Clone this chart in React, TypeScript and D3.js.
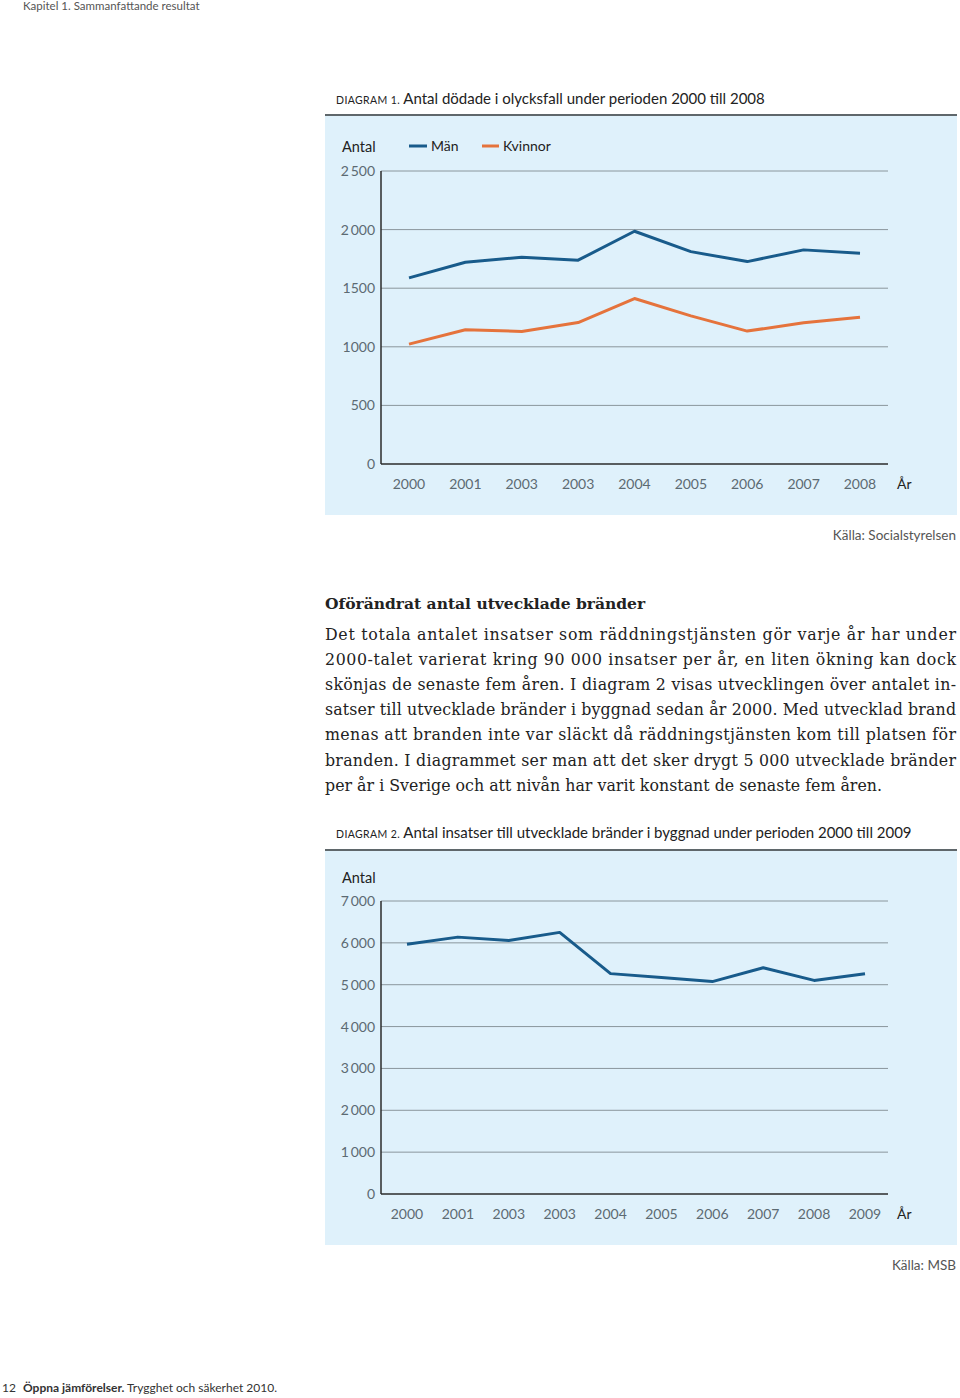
import React from "react";
import * as d3 from "d3";

const years1 = ["2000", "2001", "2003", "2003", "2004", "2005", "2006", "2007", "2008"];
const man = [1588, 1722, 1764, 1739, 1986, 1812, 1727, 1827, 1798];
const kvinnor = [1023, 1145, 1131, 1207, 1412, 1264, 1134, 1205, 1253];
const yTicks1 = [0, 500, 1000, 1500, 2000, 2500];
const yTickLabels1 = ["0", "500", "1000", "1500", "2\u2009000", "2\u2009500"];

const years2 = ["2000", "2001", "2003", "2003", "2004", "2005", "2006", "2007", "2008", "2009"];
const insatser = [5968, 6137, 6056, 6250, 5265, 5175, 5075, 5405, 5103, 5262];
const yTicks2 = [0, 1000, 2000, 3000, 4000, 5000, 6000, 7000];
const yTickLabels2 = ["0", "1\u2009000", "2\u2009000", "3\u2009000", "4\u2009000", "5\u2009000", "6\u2009000", "7\u2009000"];

const bodyLines = [
  "Det totala antalet insatser som räddningstjänsten gör varje år har under",
  "2000-talet varierat kring 90 000 insatser per år, en liten ökning kan dock",
  "skönjas de senaste fem åren. I diagram 2 visas utvecklingen över antalet in-",
  "satser till utvecklade bränder i byggnad sedan år 2000. Med utvecklad brand",
  "menas att branden inte var släckt då räddningstjänsten kom till platsen för",
  "branden. I diagrammet ser man att det sker drygt 5 000 utvecklade bränder",
  "per år i Sverige och att nivån har varit konstant de senaste fem åren.",
];

const SANS = "Lato, 'Open Sans', sans-serif";
const SERIF = "'DejaVu Serif', 'Liberation Serif', serif";
const BG = "#dff1fb";
const GRID = "#8a969c";
const TICK = "#5c6a72";
const BLUE = "#185b8b";
const ORANGE = "#e5733c";

function Chart({
  top, bottom, yMax, yTop, yBottom, xFirst, xLast, xLabels, ticks, tickLabels, series,
}: any) {
  const x = d3.scaleLinear().domain([0, xLabels.length - 1]).range([xFirst, xLast]);
  const y = d3.scaleLinear().domain([0, yMax]).range([yBottom, yTop]);
  const axisX = 381;
  const gridEnd = 888;
  return (
    <g>
      <rect x={325} y={top} width={632} height={bottom - top} fill={BG} />
      <line x1={325} x2={957} y1={top} y2={top} stroke="#5f676b" strokeWidth={2} />
      {ticks.map((t: number, i: number) => (
        <g key={i}>
          {t > 0 && (
            <line x1={axisX} x2={gridEnd} y1={y(t)} y2={y(t)} stroke={GRID} strokeWidth={1} />
          )}
          <text x={375} y={y(t) + 5} textAnchor="end" fontFamily={SANS} fontSize={14} fill={TICK}>
            {tickLabels[i]}
          </text>
        </g>
      ))}
      <line x1={axisX} x2={axisX} y1={y(yMax)} y2={y(0)} stroke="#2b2b2b" strokeWidth={1.5} />
      <line x1={axisX} x2={gridEnd} y1={y(0)} y2={y(0)} stroke="#2b2b2b" strokeWidth={1.5} />
      {xLabels.map((l: string, i: number) => (
        <text key={i} x={x(i)} y={y(0) + 25} textAnchor="middle" fontFamily={SANS} fontSize={14} fill={TICK}>
          {l}
        </text>
      ))}
      <text x={897} y={y(0) + 25} fontFamily={SANS} fontSize={14} fill="#222">År</text>
      {series.map((s: any, k: number) => {
        const line = d3.line<number>().x((_, i) => x(i)).y((v) => y(v));
        return (
          <path key={k} d={line(s.values) || ""} fill="none" stroke={s.color} strokeWidth={3} strokeLinejoin="round" />
        );
      })}
    </g>
  );
}

export default function App() {
  return (
    <svg width={960} height={1398} style={{ position: "absolute", left: 0, top: 0 }}>
      <rect x={0} y={0} width={960} height={1398} fill="#fff" />
      <text x={23} y={10} fontFamily={SANS} fontSize={11.5} fill="#555">Kapitel 1. Sammanfattande resultat</text>

      {/* Diagram 1 title */}
      <text x={336} y={104} fontFamily={SANS} fill="#222">
        <tspan fontSize={10.5} letterSpacing={0.4}>DIAGRAM 1. </tspan>
        <tspan fontSize={15}>Antal dödade i olycksfall under perioden 2000 till 2008</tspan>
      </text>

      <Chart
        top={115}
        bottom={515}
        yMax={2500}
        yTop={171}
        yBottom={464}
        xFirst={409}
        xLast={860}
        xLabels={years1}
        ticks={yTicks1}
        tickLabels={yTickLabels1}
        series={[
          { values: man, color: BLUE },
          { values: kvinnor, color: ORANGE },
        ]}
      />
      <text x={342} y={152} fontFamily={SANS} fontSize={14.5} fill="#222">Antal</text>
      <line x1={409} x2={427} y1={146} y2={146} stroke={BLUE} strokeWidth={3} />
      <text x={431} y={151} fontFamily={SANS} fontSize={14} fill="#222">Män</text>
      <line x1={482} x2={499} y1={146} y2={146} stroke={ORANGE} strokeWidth={3} />
      <text x={503} y={151} fontFamily={SANS} fontSize={14} fill="#222">Kvinnor</text>

      <text x={956} y={540} textAnchor="end" fontFamily={SANS} fontSize={13.5} fill="#555">Källa: Socialstyrelsen</text>

      {/* Body text */}
      <text x={325} y={609} fontFamily={SERIF} fontSize={15.5} fontWeight="bold" fill="#222">
        Oförändrat antal utvecklade bränder
      </text>
      {bodyLines.map((l, i) => (
        <text
          key={i}
          x={325}
          y={640 + i * 25.1}
          fontFamily={SERIF}
          fontSize={15.8}
          fill="#222"
          textLength={i < bodyLines.length - 1 ? 631 : 557}
          lengthAdjust="spacing"
        >
          {l}
        </text>
      ))}

      {/* Diagram 2 title */}
      <text x={336} y={838} fontFamily={SANS} fill="#222">
        <tspan fontSize={10.5} letterSpacing={0.4}>DIAGRAM 2. </tspan>
        <tspan fontSize={15}>Antal insatser till utvecklade bränder i byggnad under perioden 2000 till 2009</tspan>
      </text>

      <Chart
        top={850}
        bottom={1245}
        yMax={7000}
        yTop={901}
        yBottom={1194}
        xFirst={407}
        xLast={865}
        xLabels={years2}
        ticks={yTicks2}
        tickLabels={yTickLabels2}
        series={[{ values: insatser, color: BLUE }]}
      />
      <text x={342} y={883} fontFamily={SANS} fontSize={14.5} fill="#222">Antal</text>

      <text x={956} y={1270} textAnchor="end" fontFamily={SANS} fontSize={13.5} fill="#555">Källa: MSB</text>

      {/* Footer */}
      <text x={2} y={1392} fontFamily={SANS} fontSize={12} fill="#333">
        12
      </text>
      <text x={23} y={1392} fontFamily={SANS} fontSize={12} fill="#333">
        <tspan fontWeight="bold">Öppna jämförelser.</tspan>
        <tspan> Trygghet och säkerhet 2010.</tspan>
      </text>
    </svg>
  );
}
